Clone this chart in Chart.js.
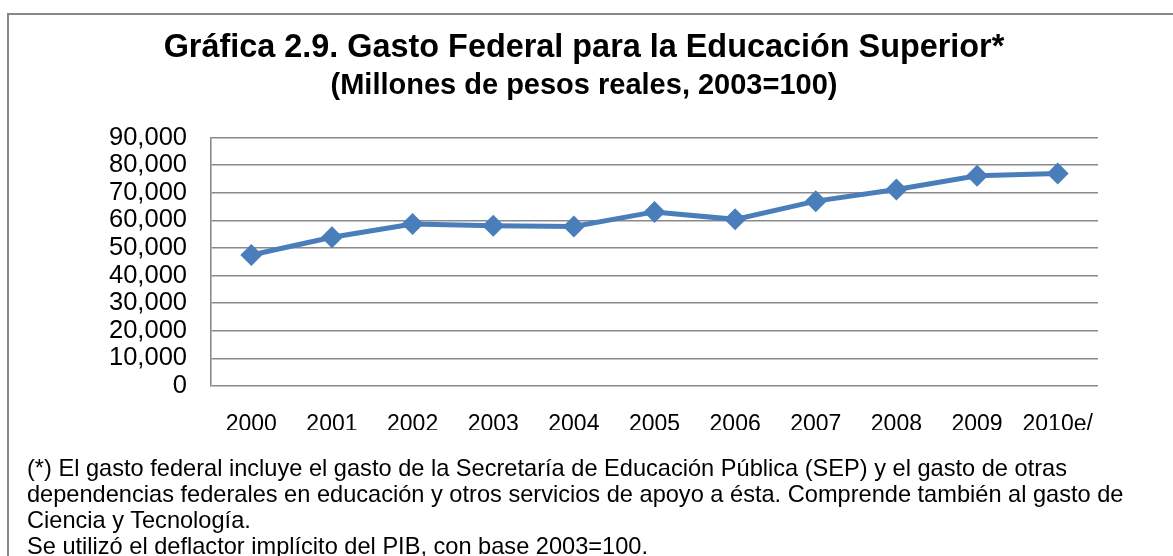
<!DOCTYPE html>
<html lang="es">
<head>
<meta charset="utf-8">
<title>Gasto Federal para la Educación Superior</title>
<script src="https://cdn.jsdelivr.net/npm/chart.js@4/dist/chart.umd.min.js"></script>
<style>
  html, body { margin: 0; padding: 0; background: #fff; overflow: hidden; }
  #wrap { position: relative; width: 1173px; height: 556px; overflow: hidden; font-family: "Liberation Sans", Arial, sans-serif; }
  #frame { position: absolute; left: 7px; top: 13px; width: 1220px; height: 620px; border: 2px solid #878787; box-sizing: border-box; }
  #chart { position: absolute; left: 0; top: 0; }
  #note { position: absolute; left: 27px; top: 455px; font-size: 23.6px; line-height: 26px; color: #000; white-space: nowrap; }
</style>
</head>
<body>
<div id="wrap">
  <div id="frame"></div>
  <canvas id="chart" width="1173" height="556"></canvas>
  <div id="note">
    <div>(*) El gasto federal incluye el gasto de la Secretaría de Educación Pública (SEP) y el gasto de otras</div>
    <div>dependencias federales en educación y otros servicios de apoyo a ésta. Comprende también al gasto de</div>
    <div>Ciencia y Tecnología.</div>
    <div>Se utilizó el deflactor implícito del PIB, con base 2003=100.</div>
  </div>
</div>
<script>
// Years on the horizontal axis
const years = ["2000", "2001", "2002", "2003", "2004", "2005", "2006", "2007", "2008", "2009", "2010e/"];
// Federal spending on higher education, millions of real pesos (2003=100)
const gasto = [47500, 53900, 58700, 58100, 57800, 63100, 60400, 67000, 71200, 76200, 77000];
// Vertical axis range
const yMin = 0;
const yMax = 90000;
const yStep = 10000;

const titleText = "Gráfica 2.9. Gasto Federal para la Educación Superior*";
const subtitleText = "(Millones de pesos reales, 2003=100)";

const FONT = '"Liberation Sans", Arial, sans-serif';
const GRID = '#8a8a8a';
const BLUE = '#4a7ebb';

new Chart(document.getElementById('chart'), {
  type: 'line',
  data: {
    labels: years,
    datasets: [{
      data: gasto,
      borderColor: BLUE,
      backgroundColor: BLUE,
      borderWidth: 5,
      pointStyle: 'rectRot',
      pointRadius: 11,
      pointBorderWidth: 0,
      pointBackgroundColor: BLUE,
      tension: 0,
      fill: false
    }]
  },
  options: {
    responsive: false,
    animation: false,
    events: [],
    layout: { padding: { top: 29, left: 70, right: 75, bottom: 126 } },
    plugins: {
      legend: { display: false },
      tooltip: { enabled: false },
      title: {
        display: true,
        text: titleText,
        color: '#000',
        font: { family: FONT, size: 32.4, weight: 'bold', lineHeight: 1.2 },
        padding: { top: 0, bottom: 0 }
      },
      subtitle: {
        display: true,
        text: subtitleText,
        color: '#000',
        font: { family: FONT, size: 29, weight: 'bold', lineHeight: 1.2 },
        padding: { top: 1, bottom: 34 }
      }
    },
    scales: {
      x: {
        offset: true,
        grid: { display: false },
        border: { display: false },
        ticks: {
          color: '#000',
          font: { family: FONT, size: 23 },
          padding: 17,
          maxRotation: 0,
          autoSkip: false
        },
        afterFit: (s) => { s.height = 44; }
      },
      y: {
        min: yMin,
        max: yMax,
        grid: { color: GRID, lineWidth: 1.6, drawTicks: false },
        border: { display: true, color: GRID, width: 1.6 },
        ticks: {
          stepSize: yStep,
          autoSkip: false,
          color: '#000',
          font: { family: FONT, size: 25.5 },
          padding: 24,
          callback: (v) => v.toLocaleString('en-US')
        },
        afterFit: (s) => { s.width = 141; }
      }
    }
  }
});
</script>
</body>
</html>
